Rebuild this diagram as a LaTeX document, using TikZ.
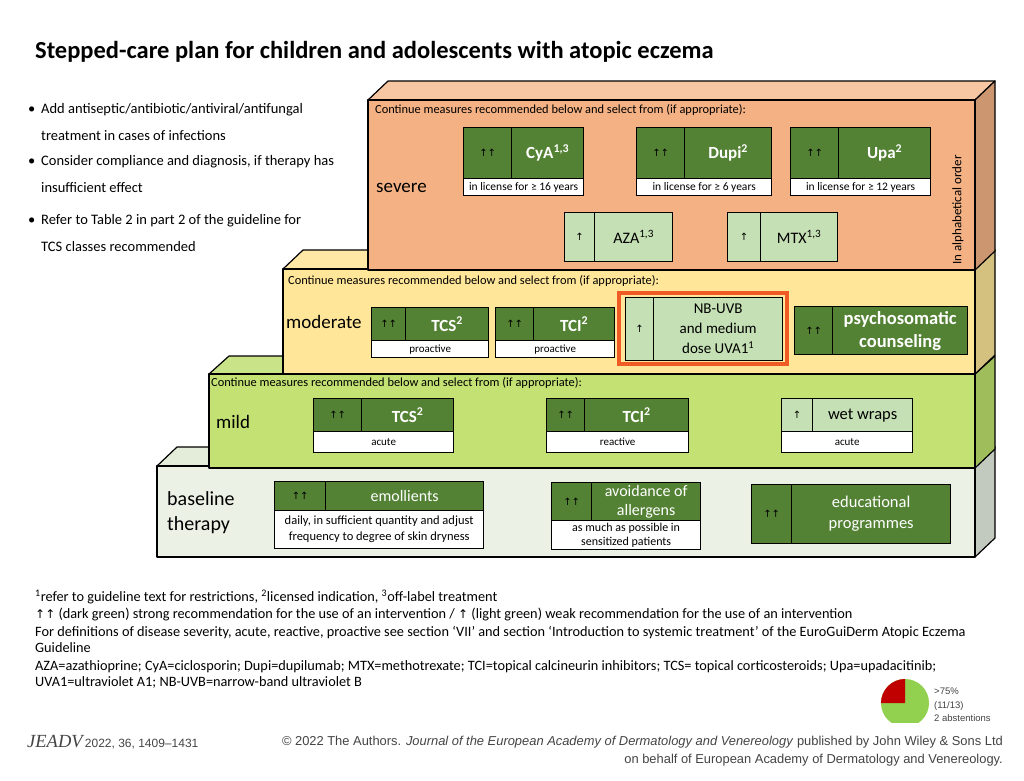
\documentclass[tikz,border=0pt]{standalone}
\usepackage{fontspec}
\setmainfont{Carlito}
\newfontfamily\arrf{DejaVu Sans}
\newfontfamily\arialf{Liberation Sans}
\newfontfamily\serff{Liberation Serif}
\definecolor{dkg}{HTML}{548235}
\definecolor{ltg}{HTML}{C5E0B4}
\definecolor{sevF}{HTML}{F4B183}
\definecolor{sevT}{HTML}{F7C6A2}
\definecolor{sevR}{HTML}{CC9670}
\definecolor{modF}{HTML}{FFE699}
\definecolor{modT}{HTML}{FFE8A6}
\definecolor{modR}{HTML}{D5C17F}
\definecolor{milF}{HTML}{C4E173}
\definecolor{milT}{HTML}{C9E488}
\definecolor{milR}{HTML}{9FBE5B}
\definecolor{basF}{HTML}{EBF1E5}
\definecolor{basT}{HTML}{E3EDD9}
\definecolor{basR}{HTML}{C2C9BE}
\definecolor{hiOr}{HTML}{F05A24}
\definecolor{pieG}{HTML}{92D050}
\definecolor{pieR}{HTML}{C00000}
\definecolor{ftg}{HTML}{444444}
\newcommand\fs[1]{\fontsize{#1}{#1}\selectfont}
\newcommand\fss[2]{\fontsize{#1}{#2}\selectfont}
\newcommand\uu{{\arrf\fs{10}↑↑}}
\newcommand\ua{{\arrf\fs{10}↑}}
\begin{document}
\begin{tikzpicture}[x=1pt,y=-1pt,
  cell/.style={draw=black, line width=1.3pt, inner sep=0pt, anchor=north west, align=center},
  dk/.style={cell, fill=dkg, text=white},
  dkA/.style={cell, fill=dkg, text=black},
  lt/.style={cell, fill=ltg, text=black},
  wt/.style={cell, fill=white, text=black, font=\fs{11}},
  drug/.style={font=\bfseries\fs{17}},
  drugR/.style={font=\fs{16}},
  lvl/.style={anchor=west, font=\fs{19}, inner sep=0pt},
  cont/.style={anchor=west, font=\fs{12.4}, inner sep=0pt},
  bul/.style={anchor=west, font=\fs{14.5}, inner sep=0pt},
  foot/.style={anchor=west, font=\fs{14.3}, inner sep=0pt},
  slab/.style={draw=black, line width=1.2pt, line join=round}
]
\useasboundingbox[fill=white] (0,0) rectangle (1024,780);

% title
\node[anchor=west, font=\bfseries\fs{24.5}, inner sep=0pt] (title) at (35,52) {Stepped-care plan for children and adolescents with atopic eczema};

% bullets
\node[bul] (d1) at (28,110) {•};
\node[bul] (b1) at (41,110) {Add antiseptic/antibiotic/antiviral/antifungal};
\node[bul] (b1b) at (41,136) {treatment in cases of infections};
\node[bul] (d2) at (28,162) {•};
\node[bul] (b2) at (41,162) {Consider compliance and diagnosis, if therapy has};
\node[bul] (b2b) at (41,188) {insufficient effect};
\node[bul] (d3) at (28,221) {•};
\node[bul] (b3) at (41,221) {Refer to Table 2 in part 2 of the guideline for};
\node[bul] (b3b) at (41,247) {TCS classes recommended};

% slabs: baseline
\filldraw[slab, fill=basT] (157,466) -- (177,447) -- (995,447) -- (975,466) -- cycle;
\filldraw[slab, fill=basR] (975,466) -- (995,447) -- (995,538) -- (975,557) -- cycle;
\filldraw[slab, fill=basF] (157,466) rectangle (975,557);
% mild
\filldraw[slab, fill=milT] (209,374) -- (229,356) -- (995,356) -- (975,374) -- cycle;
\filldraw[slab, fill=milR] (975,374) -- (995,356) -- (995,449) -- (975,468) -- cycle;
\filldraw[slab, fill=milF] (209,374) rectangle (975,468);
% moderate
\filldraw[slab, fill=modT] (283,269) -- (303,250) -- (995,250) -- (975,269) -- cycle;
\filldraw[slab, fill=modR] (975,269) -- (995,250) -- (995,355) -- (975,374) -- cycle;
\filldraw[slab, fill=modF] (283,269) rectangle (975,374);
% severe
\filldraw[slab, fill=sevT] (368,100) -- (388,81) -- (995,81) -- (975,100) -- cycle;
\filldraw[slab, fill=sevR] (975,100) -- (995,81) -- (995,251) -- (975,270) -- cycle;
\filldraw[slab, fill=sevF] (368,100) rectangle (975,270);

% ---------- severe
\node[cont] (csev) at (375,110) {Continue measures recommended below and select from (if appropriate):};
\node[lvl] (lsev) at (376,188) {severe};
\node[rotate=90, font=\fs{13}, inner sep=0pt] (alpha) at (958,210) {In alphabetical order};

\node[dkA, minimum width=48, minimum height=51] (cyaA) at (463,127) {\uu};
\node[dk, drug, minimum width=72, minimum height=51] (cyaN) at (511,127) {CyA\textsuperscript{1,3}};
\node[wt, font=\fs{11.5}, minimum width=120, minimum height=17] (cyaL) at (463,178) {in license for ≥ 16 years};

\node[dkA, minimum width=48, minimum height=51] (dupA) at (636,127) {\uu};
\node[dk, drug, minimum width=87, minimum height=51] (dupN) at (684,127) {Dupi\textsuperscript{2}};
\node[wt, font=\fs{11.5}, minimum width=135, minimum height=17] (dupL) at (636,178) {in license for ≥ 6 years};

\node[dkA, minimum width=48, minimum height=51] (upaA) at (790,127) {\uu};
\node[dk, drug, minimum width=92, minimum height=51] (upaN) at (838,127) {Upa\textsuperscript{2}};
\node[wt, font=\fs{11.5}, minimum width=140, minimum height=17] (upaL) at (790,178) {in license for ≥ 12 years};

\node[lt, minimum width=30, minimum height=49] (azaA) at (564,212) {\ua};
\node[lt, drugR, minimum width=78, minimum height=49] (azaN) at (594,212) {AZA\textsuperscript{1,3}};
\node[lt, minimum width=33, minimum height=49] (mtxA) at (727,212) {\ua};
\node[lt, drugR, minimum width=77, minimum height=49] (mtxN) at (760,212) {MTX\textsuperscript{1,3}};

% ---------- moderate
\node[cont] (cmod) at (288,281) {Continue measures recommended below and select from (if appropriate):};
\node[lvl] (lmod) at (286,322) {moderate};

\node[dkA, minimum width=34, minimum height=33] (mtcsA) at (371,307) {\uu};
\node[dk, drug, minimum width=83, minimum height=33] (mtcsN) at (405,307) {TCS\textsuperscript{2}};
\node[wt, minimum width=117, minimum height=17] (mtcsL) at (371,340) {proactive};

\node[dkA, minimum width=38, minimum height=33] (mtciA) at (495,307) {\uu};
\node[dk, drug, minimum width=81, minimum height=33] (mtciN) at (533,307) {TCI\textsuperscript{2}};
\node[wt, minimum width=119, minimum height=17] (mtciL) at (495,340) {proactive};

\draw[hiOr, line width=4pt] (619,293) rectangle (787,364);
\node[lt, minimum width=28, minimum height=63] (nbA) at (625,297) {\ua};
\node[lt, font=\fss{15}{20}, minimum width=129, minimum height=63] (nbN) at (653,297) {NB-UVB\\and medium\\dose UVA1\textsuperscript{1}};

\node[dkA, minimum width=38, minimum height=48] (psyA) at (794,306) {\uu};
\node[dk, font=\bfseries\fss{18.5}{23}, minimum width=135, minimum height=48] (psyN) at (832,306) {psychosomatic\\counseling};

% ---------- mild
\node[cont] (cmil) at (211,383) {Continue measures recommended below and select from (if appropriate):};
\node[lvl] (lmil) at (216,422) {mild};

\node[dkA, minimum width=48, minimum height=33] (tcsA) at (313,398) {\uu};
\node[dk, drug, minimum width=92, minimum height=33] (tcsN) at (361,398) {TCS\textsuperscript{2}};
\node[wt, minimum width=140, minimum height=21] (tcsL) at (313,431) {acute};

\node[dkA, minimum width=38, minimum height=33] (tciA) at (546,398) {\uu};
\node[dk, drug, minimum width=104, minimum height=33] (tciN) at (584,398) {TCI\textsuperscript{2}};
\node[wt, minimum width=142, minimum height=21] (tciL) at (546,431) {reactive};

\node[lt, minimum width=31, minimum height=33] (wetA) at (781,398) {\ua};
\node[lt, font=\fs{16.5}, minimum width=100, minimum height=33] (wetN) at (812,398) {wet wraps};
\node[wt, minimum width=131, minimum height=21] (wetL) at (781,431) {acute};

% ---------- baseline
\node[lvl, align=left, font=\fss{20}{25}] (lbas) at (167,513) {baseline\\therapy};

\node[dkA, minimum width=51, minimum height=29] (emoA) at (274,481) {\uu};
\node[dk, drugR, minimum width=158, minimum height=29] (emoN) at (325,481) {emollients};
\node[wt, font=\fss{12.5}{16}, minimum width=209, minimum height=38] (emoL) at (274,510) {daily, in sufficient quantity and adjust\\frequency to degree of skin dryness};

\node[dkA, minimum width=40, minimum height=38] (avoA) at (551,482) {\uu};
\node[dk, font=\fss{16}{19}, minimum width=109, minimum height=38] (avoN) at (591,482) {avoidance of\\allergens};
\node[wt, font=\fss{12}{14.5}, minimum width=149, minimum height=29] (avoL) at (551,520) {as much as possible in\\sensitized patients};

\node[dkA, minimum width=40, minimum height=59] (eduA) at (751,484) {\uu};
\node[dk, font=\fss{16.5}{21}, minimum width=159, minimum height=59] (eduN) at (791,484) {educational\\programmes};

% ---------- footnotes
\node[foot] (f1) at (35,597) {\textsuperscript{1}refer to guideline text for restrictions, \textsuperscript{2}licensed indication, \textsuperscript{3}off-label treatment};
\node[foot] (f2) at (35,614) {{\arrf\fs{12}↑↑} (dark green) strong recommendation for the use of an intervention / {\arrf\fs{12}↑} (light green) weak recommendation for the use of an intervention};
\node[foot] (f3) at (35,632) {For definitions of disease severity, acute, reactive, proactive see section ‘VII’ and section ‘Introduction to systemic treatment’ of the EuroGuiDerm Atopic Eczema};
\node[foot] (f4) at (35,648) {Guideline};
\node[foot] (f5) at (35,667) {AZA=azathioprine; CyA=ciclosporin; Dupi=dupilumab; MTX=methotrexate; TCI=topical calcineurin inhibitors; TCS= topical corticosteroids; Upa=upadacitinib;};
\node[foot] (f6) at (35,682) {UVA1=ultraviolet A1; NB-UVB=narrow-band ultraviolet B};

% ---------- pie
\begin{scope}
\clip (870,670) rectangle (940,722);
\fill[pieG] (905,703) circle (24);
\fill[pieR] (905,703) -- ++(-24,0) arc[start angle=180, end angle=270, radius=24] -- cycle;
\end{scope}
\coordinate (pc) at (905,703);
\node[anchor=north west, align=left, font=\arialf\fss{9.5}{13.5}, inner sep=0pt, text=ftg] (pt) at (934,688) {>75\%\\(11/13)\\2 abstentions};

% ---------- footer
\node[anchor=west, inner sep=0pt, text=ftg] (j1) at (27,742) {{\serff\itshape\fs{18.5}JEADV} {\arialf\fs{12}2022, 36, 1409–1431}};
\node[anchor=east, inner sep=0pt, text=ftg, font=\arialf\fs{12.9}] (j2) at (1003,742) {© 2022 The Authors. \textit{Journal of the European Academy of Dermatology and Venereology} published by John Wiley \& Sons Ltd};
\node[anchor=east, inner sep=0pt, text=ftg, font=\arialf\fs{12.9}] (j3) at (1003,760) {on behalf of European Academy of Dermatology and Venereology.};
\end{tikzpicture}
\end{document}
